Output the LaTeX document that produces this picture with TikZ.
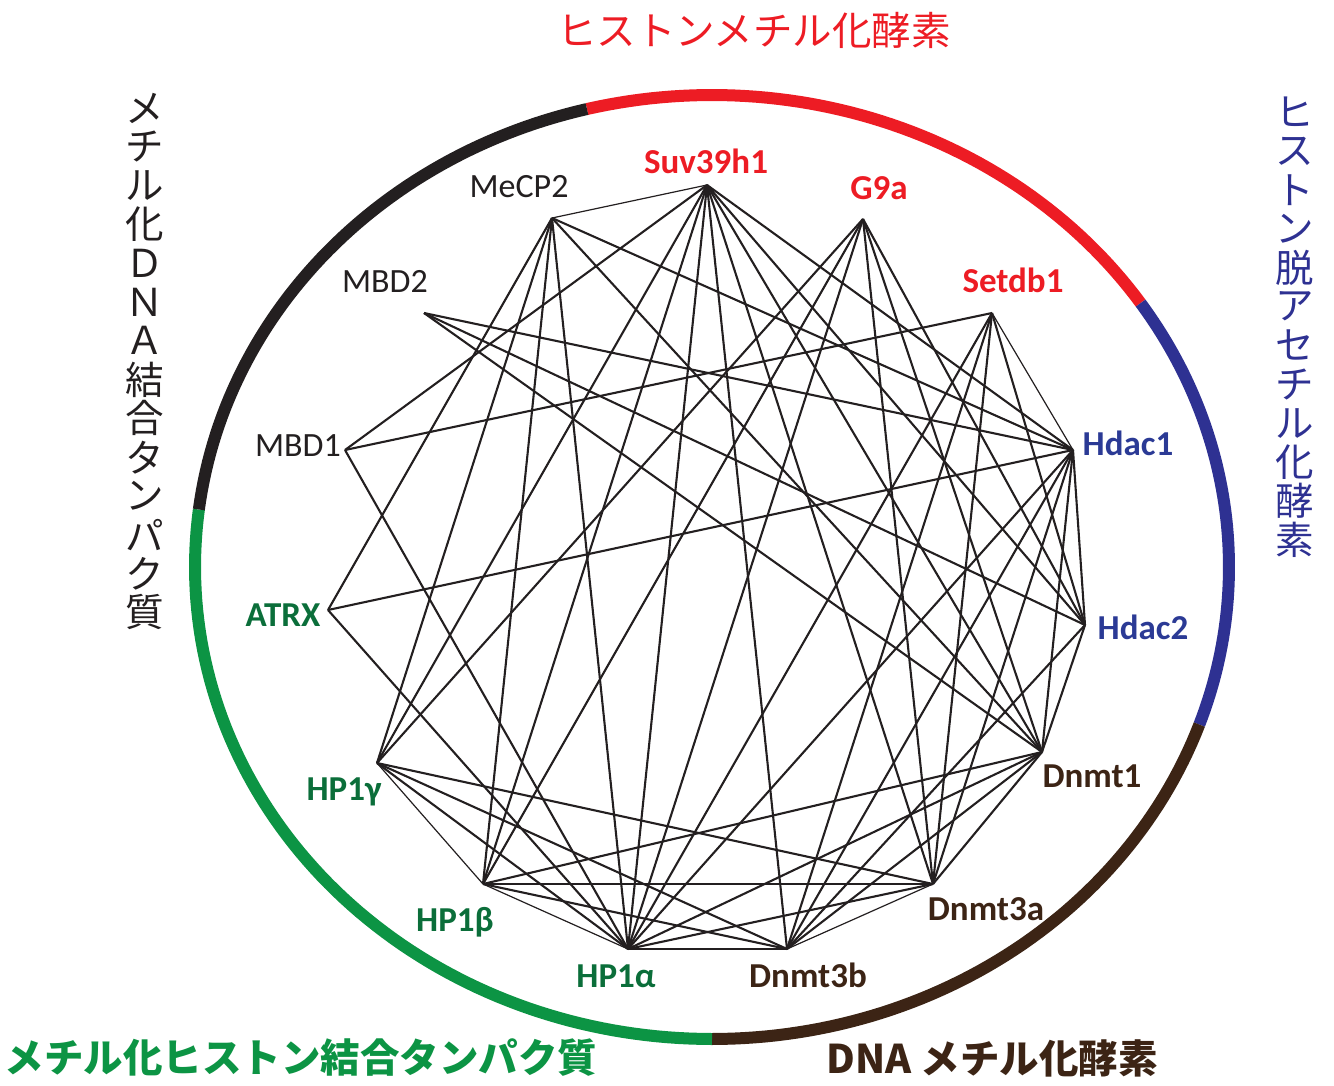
\documentclass[tikz,border=0pt]{standalone}
\usepackage{fontspec}
\setmainfont{Carlito}
\newfontfamily\jp{Noto Sans CJK JP}
\definecolor{mred}{HTML}{ED1C24}
\definecolor{mblue}{HTML}{2E3192}
\definecolor{mbluet}{HTML}{2B3A95}
\definecolor{mbrown}{HTML}{3C2415}
\definecolor{mgreen}{HTML}{0C9444}
\definecolor{mgreent}{HTML}{0B6E3A}
\definecolor{mblack}{HTML}{231F20}
\tikzset{
  edge/.style={draw=mblack, line width=2.1pt},
  thinedge/.style={draw=mblack, line width=1.2pt},
  ring/.style={line width=12pt},
  lab/.style={anchor=base, inner sep=0pt, font=\fontsize{35}{35}\selectfont\bfseries},
  glab/.style={anchor=base, inner sep=0pt, font=\fontsize{34}{34}\selectfont, text=mblack},
  jlab/.style={inner sep=0pt, font=\jp\fontsize{38.5}{38.5}\selectfont},
  jhlab/.style={inner sep=0pt, font=\jp\fontsize{39.5}{39.5}\selectfont},
}
\begin{document}
\begin{tikzpicture}[x=1pt,y=-1pt]
\useasboundingbox (0,0) rectangle (1334,1085);
% ring
\draw[ring, mred,   domain=-104:-34,  samples=60, variable=\t] plot ({712+517*cos(\t)},{567+472*sin(\t)});
\draw[ring, mblue,  domain=-34:19.5,  samples=60, variable=\t] plot ({712+517*cos(\t)},{567+472*sin(\t)});
\draw[ring, mbrown, domain=19.5:90,   samples=60, variable=\t] plot ({712+517*cos(\t)},{567+472*sin(\t)});
\draw[ring, mgreen, domain=90:187,    samples=80, variable=\t] plot ({712+517*cos(\t)},{567+472*sin(\t)});
\draw[ring, mblack, domain=187:256,   samples=60, variable=\t] plot ({712+517*cos(\t)},{567+472*sin(\t)});
% vertices
\coordinate (suv) at (707,185);
\coordinate (g9a) at (863,219);
\coordinate (setdb) at (992,313);
\coordinate (hdaca) at (1073,450);
\coordinate (hdacb) at (1085,625);
\coordinate (dnmta) at (1042,752);
\coordinate (dnmtc) at (933,884);
\coordinate (dnmtd) at (787,949);
\coordinate (hpa) at (628,949);
\coordinate (hpb) at (483,884);
\coordinate (hpg) at (377,763);
\coordinate (atrx) at (328,610);
\coordinate (mbda) at (345,450);
\coordinate (mbdb) at (424,313);
\coordinate (mecp) at (552,218);
% edges
\foreach \a/\b in {suv/mecp, setdb/hdaca, hpg/hpb, hpb/hpa, hpa/dnmtd, dnmtd/dnmtc}
  \draw[thinedge] (\a) -- (\b);
\foreach \a/\b in {suv/mbda, suv/hpg, suv/hpb, suv/hpa, suv/dnmtd, suv/dnmtc, suv/dnmta, suv/hdacb, suv/hdaca,
  g9a/hpg, g9a/hpb, g9a/hpa, g9a/dnmtc, g9a/dnmta, g9a/hdacb,
  setdb/mbda, setdb/hpa, setdb/dnmtd, setdb/dnmtc, setdb/hdacb,
  hdaca/mecp, hdaca/mbdb, hdaca/atrx, hdaca/hpa, hdaca/dnmtd, hdaca/dnmtc, hdaca/dnmta, hdaca/hdacb,
  hdacb/mbdb, hdacb/dnmta, hdacb/dnmtd,
  dnmta/mecp, dnmta/mbdb, dnmta/dnmtc, dnmta/dnmtd, dnmta/hpa, dnmta/hpb,
  dnmtc/hpb, dnmtc/hpg, dnmtc/hpa,
  dnmtd/hpb, dnmtd/hpg,
  hpa/mbda, hpa/atrx, hpa/mecp, hpa/hpg,
  hpb/mecp, hpg/mecp, atrx/mecp}
  \draw[edge] (\a) -- (\b);
% node labels
\node[lab, text=mred] (lsuv) at (706,173) {Suv39h1};
\node[lab, text=mred] (lg9a) at (879,199) {G9a};
\node[lab, text=mred] (lsetdb) at (1013,292) {Setdb1};
\node[lab, text=mbluet] (lhdaca) at (1128,455) {Hdac1};
\node[lab, text=mbluet] (lhdacb) at (1143,639) {Hdac2};
\node[lab, text=mbrown] (ldnmta) at (1092,787) {Dnmt1};
\node[lab, text=mbrown] (ldnmtc) at (986,920) {Dnmt3a};
\node[lab, text=mbrown] (ldnmtd) at (808,987) {Dnmt3b};
\node[lab, text=mgreent] (lhpa) at (616,987) {HP1α};
\node[lab, text=mgreent] (lhpb) at (455,931) {HP1β};
\node[lab, text=mgreent] (lhpg) at (344,800) {HP1γ};
\node[lab, text=mgreent] (latrx) at (283,626) {ATRX};
\node[glab] (lmbda) at (298,456) {MBD1};
\node[glab] (lmbdb) at (385,292) {MBD2};
\node[glab] (lmecp) at (519,197) {MeCP2};
% group labels
\node[jhlab, text=mred] (gtop) at (754,30) {ヒストンメチル化酵素};
\node[jhlab, text=mgreen, font=\jp\fontsize{39.5}{39.5}\selectfont\bfseries] (gbl) at (301,1058) {メチル化ヒストン結合タンパク質};
\node[jhlab, text=mbrown, font=\jp\fontsize{39.5}{39.5}\selectfont\bfseries] (gbr) at (992,1058) {DNA メチル化酵素};
\foreach \c [count=\i from 0] in {メ,チ,ル,化,Ｄ,Ｎ,Ａ,結,合,タ,ン,パ,ク,質}
  \node[jlab, text=mblack] (lv\i) at (145,{108+38.8*\i}) {\c};
\foreach \c [count=\i from 0] in {ヒ,ス,ト,ン,脱,ア,セ,チ,ル,化,酵,素}
  \node[jlab, text=mblue] (rv\i) at (1295,{112+38.9*\i}) {\c};
\end{tikzpicture}
\end{document}
